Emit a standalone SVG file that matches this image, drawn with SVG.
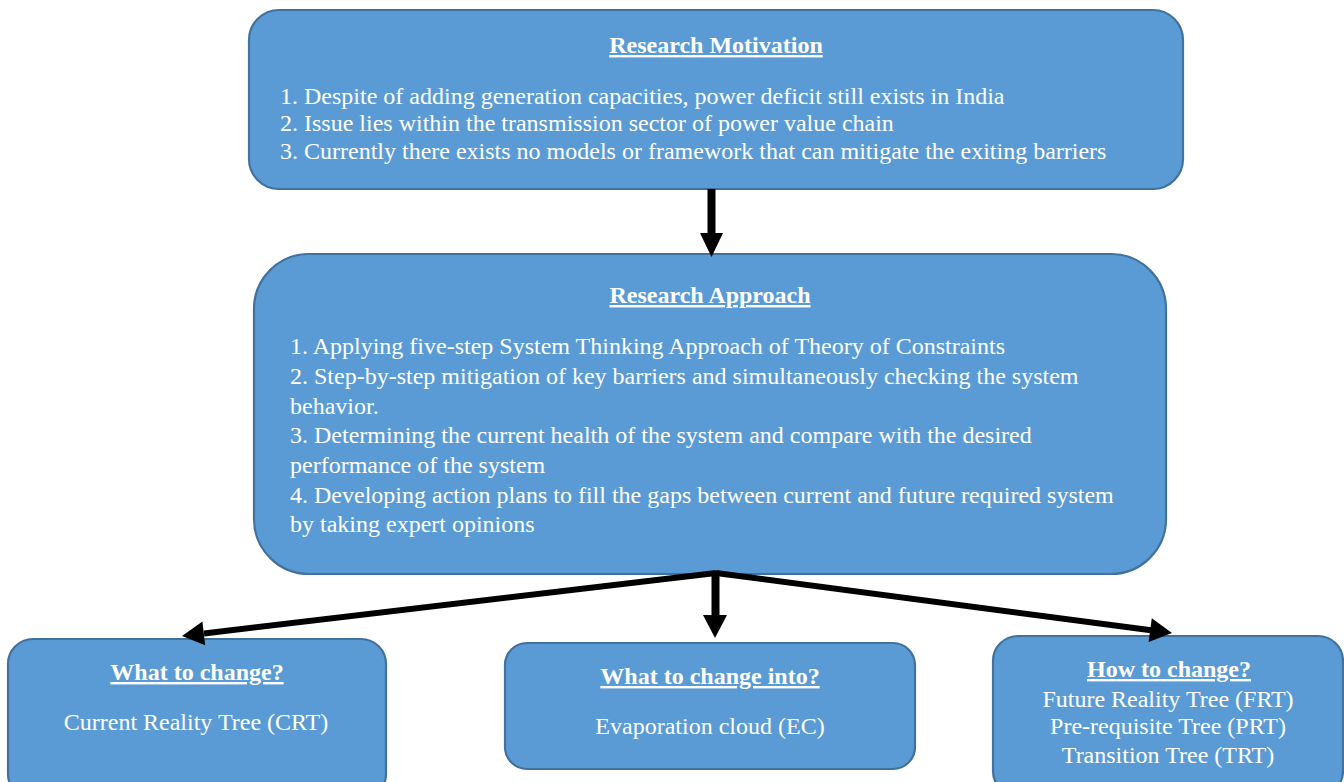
<svg xmlns="http://www.w3.org/2000/svg" width="1344" height="782" viewBox="0 0 1344 782">
<style>
.box{fill:#5B9BD5;stroke:#41719C;stroke-width:2.2}
.t{font-family:"Liberation Serif","Times New Roman",serif;fill:#fff;font-size:24px}
.h{font-weight:bold;text-decoration:underline;text-anchor:middle}
.c{text-anchor:middle}
.ln{stroke:#000;stroke-width:6;fill:none}
.ah{fill:#000}
</style>
<rect width="1344" height="782" fill="#fff"/>
<g id="motivation">
<rect class="box" x="249" y="10" width="934" height="179" rx="30"/>
<text class="t h" x="716" y="53">Research Motivation</text>
<text class="t" x="280" y="104">1. Despite of adding generation capacities, power deficit still exists in India</text>
<text class="t" x="280" y="131">2. Issue lies within the transmission sector of power value chain</text>
<text class="t" x="280" y="159">3. Currently there exists no models or framework that can mitigate the exiting barriers</text>
</g>
<g id="approach">
<rect class="box" x="254" y="254" width="912" height="320" rx="55"/>
<text class="t h" x="710" y="303">Research Approach</text>
<text class="t" x="290" y="354">1. Applying five-step System Thinking Approach of Theory of Constraints</text>
<text class="t" x="290" y="384">2. Step-by-step mitigation of key barriers and simultaneously checking the system</text>
<text class="t" x="290" y="414">behavior.</text>
<text class="t" x="290" y="443">3. Determining the current health of the system and compare with the desired</text>
<text class="t" x="290" y="473">performance of the system</text>
<text class="t" x="290" y="503">4. Developing action plans to fill the gaps between current and future required system</text>
<text class="t" x="290" y="532">by taking expert opinions</text>
</g>
<g id="what-to-change">
<rect class="box" x="8" y="639" width="378" height="160" rx="25"/>
<text class="t h" x="197" y="680">What to change?</text>
<text class="t c" x="196" y="730">Current Reality Tree (CRT)</text>
</g>
<g id="what-to-change-into">
<rect class="box" x="505" y="643" width="410" height="126" rx="22"/>
<text class="t h" x="710" y="684">What to change into?</text>
<text class="t c" x="710" y="734">Evaporation cloud (EC)</text>
</g>
<g id="how-to-change">
<rect class="box" x="993" y="636" width="350" height="160" rx="25"/>
<text class="t h" x="1169" y="677">How to change?</text>
<text class="t c" x="1168" y="707">Future Reality Tree (FRT)</text>
<text class="t c" x="1168" y="734">Pre-requisite Tree (PRT)</text>
<text class="t c" x="1168" y="763">Transition Tree (TRT)</text>
</g>
<g id="connectors">
<line class="ln" x1="711.5" y1="189" x2="711.5" y2="235" style="stroke-width:8"/>
<polygon class="ah" points="700,233 723,233 711.5,257"/>
<line class="ln" x1="715.5" y1="571" x2="715.5" y2="617" style="stroke-width:8"/>
<polygon class="ah" points="703,615 727,615 715,638"/>
<line class="ln" x1="716" y1="573" x2="204" y2="633.4"/>
<polygon class="ah" points="182,636 205.2,645.3 202.4,621.5"/>
<line class="ln" x1="716" y1="573" x2="1151" y2="630.2"/>
<polygon class="ah" points="1172,633 1148.6,642 1151.8,618.2"/>
</g>
</svg>
